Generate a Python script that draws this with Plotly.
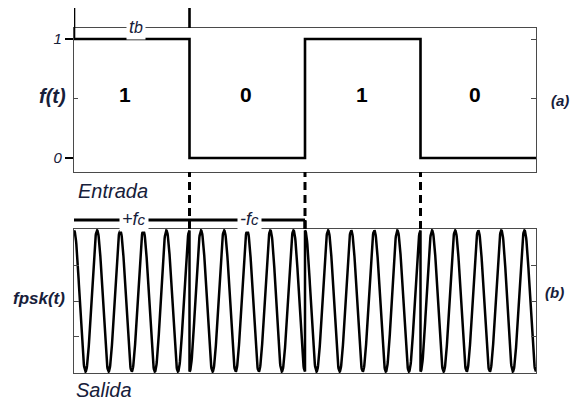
import numpy as np
import plotly.graph_objects as go

# ---- data ----
bits = [1, 0, 1, 0]
bit_labels = ["1", "0", "1", "0"]
cycles_per_bit = 5
level_ticks = [0, 1]
level_tick_text = ["0", "1"]
carrier_labels = ["+fc", "-fc"]

W, H = 571, 401
FONT = "Liberation Sans"
NAVY = "#17203a"
BOX = "#4a4a4a"


def py(p):
    return 1 - p / H


def px(p):
    return p / W


n = len(bits)

# step signal (top)
sx = list(range(n + 1))
sy = bits + [bits[-1]]

# PSK output (bottom): phase 0 for bit 1, phase pi for bit 0
wx, wy = [], []
for i, b in enumerate(bits):
    t = np.linspace(i, i + 1, 400)
    sign = 1 if b == 1 else -1
    wx.extend(t.tolist())
    wy.extend((sign * np.cos(2 * np.pi * cycles_per_bit * (t - i))).tolist())

fig = go.Figure()
fig.add_trace(go.Scatter(x=sx, y=sy, mode="lines", line=dict(shape="hv", color="black", width=2.6),
                         xaxis="x", yaxis="y", showlegend=False, hoverinfo="skip"))
fig.add_trace(go.Scatter(x=wx, y=wy, mode="lines", line=dict(color="black", width=2.5),
                         xaxis="x2", yaxis="y2", showlegend=False, hoverinfo="skip"))

xdom = [px(74), px(536)]
top_dom = [py(172), py(28)]
bot_dom = [py(373), py(229)]
top_range = [-14 / 119, 1 + 11 / 119]

fig.update_layout(
    width=W, height=H, autosize=False,
    margin=dict(l=0, r=0, t=0, b=0),
    paper_bgcolor="white", plot_bgcolor="white",
    font=dict(family=FONT, color="black"),
    xaxis=dict(domain=xdom, range=[0, n], showline=True, mirror=True, linecolor=BOX, linewidth=1.3,
               showgrid=False, zeroline=False, showticklabels=False, ticks="", anchor="y"),
    yaxis=dict(domain=top_dom, range=top_range, showline=True, mirror=True, linecolor=BOX, linewidth=1.3,
               showgrid=False, zeroline=False, tickvals=level_ticks, ticktext=level_tick_text,
               ticks="outside", ticklen=8, tickwidth=2.2, tickcolor="black",
               tickfont=dict(family=FONT, size=15, color=NAVY, style="italic"), anchor="x"),
    yaxis3=dict(overlaying="y", side="right", anchor="x", range=top_range, tickvals=[0.5, 1],
                ticks="inside", ticklen=5, tickwidth=1, tickcolor=BOX, showticklabels=False,
                showgrid=False, zeroline=False, showline=False),
    yaxis4=dict(overlaying="y", side="left", anchor="x", range=top_range, tickvals=[0.5],
                ticks="inside", ticklen=4, tickwidth=1, tickcolor=BOX, showticklabels=False,
                showgrid=False, zeroline=False, showline=False),
    xaxis2=dict(domain=xdom, range=[0, n], showline=True, mirror=True, linecolor=BOX, linewidth=1.3,
                showgrid=False, zeroline=False, showticklabels=False, ticks="", anchor="y2"),
    yaxis2=dict(domain=bot_dom, range=[-1.02, 1.02], showline=True, mirror="ticks", linecolor=BOX,
                linewidth=1.3, showgrid=False, zeroline=False, tickvals=[-0.5, 0, 0.5],
                ticks="inside", ticklen=5, tickwidth=1, tickcolor=BOX, showticklabels=False, anchor="x2"),
)
# dummy traces to activate overlay axes
fig.add_trace(go.Scatter(x=[None], y=[None], xaxis="x", yaxis="y3", showlegend=False))
fig.add_trace(go.Scatter(x=[None], y=[None], xaxis="x", yaxis="y4", showlegend=False))

shapes = []
# dashed connectors at bit boundaries
for k in range(1, n):
    shapes.append(dict(type="line", xref="x", yref="paper", x0=k, x1=k, y0=py(229), y1=py(172),
                       line=dict(color="black", width=3, dash="8px,5px")))
# tb markers
shapes.append(dict(type="line", xref="x", yref="paper", x0=0, x1=0, y0=py(39), y1=py(8),
                   line=dict(color="black", width=2.6)))
shapes.append(dict(type="line", xref="x", yref="paper", x0=1, x1=1, y0=py(28), y1=py(8),
                   line=dict(color="black", width=2.6)))
# carrier frequency bar
shapes.append(dict(type="line", xref="x", yref="paper", x0=0, x1=2, y0=py(220), y1=py(220),
                   line=dict(color="black", width=3)))
shapes.append(dict(type="line", xref="x", yref="paper", x0=2, x1=2, y0=py(229), y1=py(220),
                   line=dict(color="black", width=3)))
fig.update_layout(shapes=shapes)

C = dict(xanchor="center", yanchor="middle", showarrow=False)
ann = []
label_x = [0.44, 1.49, 2.49, 3.47]
for lx, lab in zip(label_x, bit_labels):
    ann.append(dict(x=lx, y=0.53, xref="x", yref="y", text=f"<b>{lab}</b>",
                    font=dict(family=FONT, size=21, color="black"), **C))
ann.append(dict(x=0.54, y=py(27), xref="x", yref="paper", text="t<span style='font-size:16px'>b</span>",
                bgcolor="white", borderpad=2,
                font=dict(family=FONT, size=18, color=NAVY, style="italic"), **C))
for i, lab in enumerate(carrier_labels):
    ann.append(dict(x=i + 0.52, y=py(219), xref="x", yref="paper",
                    text=f"{lab[:-1]}<span style='font-size:15px'>{lab[-1]}</span>",
                    bgcolor="white", borderpad=2, font=dict(family=FONT, size=18, color=NAVY, style="italic"), **C))
ann.append(dict(x=px(52), y=py(96), xref="paper", yref="paper", text="<b>f(t)</b>",
                font=dict(family=FONT, size=20, color=NAVY, style="italic"), **C))
ann.append(dict(x=px(560), y=py(100), xref="paper", yref="paper", text="<b>(a)</b>",
                font=dict(family=FONT, size=15, color=NAVY, style="italic"), **C))
ann.append(dict(x=px(76), y=py(191), xref="paper", yref="paper", text="Entrada", showarrow=False,
                xanchor="left", yanchor="middle", font=dict(family=FONT, size=20, color=NAVY, style="italic")))
ann.append(dict(x=px(39), y=py(298), xref="paper", yref="paper", text="<b>fpsk(t)</b>",
                font=dict(family=FONT, size=17, color=NAVY, style="italic"), **C))
ann.append(dict(x=px(554), y=py(292), xref="paper", yref="paper", text="<b>(b)</b>",
                font=dict(family=FONT, size=15, color=NAVY, style="italic"), **C))
ann.append(dict(x=px(74), y=py(390), xref="paper", yref="paper", text="Salida", showarrow=False,
                xanchor="left", yanchor="middle", font=dict(family=FONT, size=20, color=NAVY, style="italic")))
fig.update_layout(annotations=ann)

fig.write_html("out.html", config={"displayModeBar": False},
               post_script="document.body.style.margin='0';")
